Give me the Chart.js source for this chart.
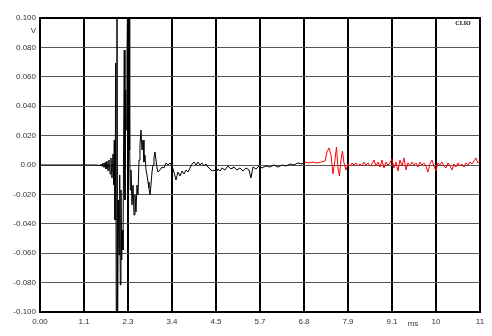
<!DOCTYPE html>
<html>
<head>
<meta charset="utf-8">
<script src="https://cdn.jsdelivr.net/npm/chart.js@4.4.1/dist/chart.umd.min.js"></script>
<style>
  html, body { margin: 0; padding: 0; background: #fff; }
  #wrap { width: 492px; height: 336px; position: relative; }
</style>
</head>
<body>
<div id="wrap"><canvas id="impulse"></canvas></div>
<script>
// time axis (ms) and tick labels as printed by CLIO
var xMax = 11.35;
var xTickLabels = ['0.00', '1.1', '2.3', '3.4', '4.5', '5.7', '6.8', '7.9', '9.1', '10', '11'];
var yTickLabels = ['-0.100', '-0.080', '-0.060', '-0.040', '-0.020', '0.00', '0.020', '0.040', '0.060', '0.080', '0.100'];

// first part of the impulse (black), ms / V
var blackTimes = [
	0, 1.419, 1.548, 1.573, 1.599, 1.625, 1.651, 1.677, 1.702, 1.728,
	1.754, 1.780, 1.806, 1.831, 1.857, 1.883, 1.901, 1.916, 1.934, 1.953,
	1.968, 1.986, 2.002, 2.020, 2.038, 2.056, 2.071, 2.089, 2.107, 2.123,
	2.141, 2.159, 2.174, 2.192, 2.210, 2.226, 2.244, 2.259, 2.278, 2.296,
	2.314, 2.329, 2.347, 2.373, 2.399, 2.425, 2.450, 2.476, 2.502, 2.528,
	2.554, 2.579, 2.605, 2.631, 2.657, 2.682, 2.708, 2.734, 2.760, 2.786,
	2.811, 2.837, 2.863, 2.889, 2.915, 2.940, 2.966, 2.992, 3.018, 3.044,
	3.095, 3.147, 3.198, 3.250, 3.302, 3.353, 3.405, 3.456, 3.508, 3.559,
	3.611, 3.663, 3.714, 3.766, 3.817, 3.869, 3.921, 3.972, 4.024, 4.075,
	4.127, 4.178, 4.230, 4.282, 4.333, 4.385, 4.436, 4.488, 4.540, 4.591,
	4.643, 4.694, 4.772, 4.849, 4.926, 5.004, 5.081, 5.159, 5.236, 5.313,
	5.391, 5.442, 5.494, 5.571, 5.649, 5.726, 5.829, 5.932, 6.036, 6.139,
	6.242, 6.345, 6.448, 6.551, 6.655, 6.758, 6.835
];
var blackValues = [
	0, 0, -0.0003, 0.0007, -0.0010, 0.0014, -0.0017, 0.0017, -0.0027, 0.0027,
	-0.0041, 0.0034, -0.0061, 0.0048, -0.0088, 0.0075, -0.0136, 0.0170, -0.0374, 0.0694,
	-0.115, 0.115, -0.115, -0.0238, -0.0612, -0.0068, -0.0816, -0.0170, -0.0646, -0.0442,
	-0.0578, 0.0238, 0.0782, -0.0238, 0.0510, 0.0238, 0.0714, 0.115, -0.0306, 0.115,
	0.0102, -0.0170, -0.0034, -0.0272, -0.0136, -0.0340, -0.0204, -0.0320, -0.0136, -0.0204,
	0.0034, 0.0136, 0.0238, 0.0102, 0.0170, 0.0020, 0.0068, -0.0034, -0.0068, -0.0116,
	-0.0156, -0.0204, -0.0136, -0.0048, 0, 0.0048, 0.0088, 0.0034, -0.0020, -0.0048,
	-0.0034, -0.0014, -0.0020, 0.0014, 0, 0.0014, -0.0007, -0.0048, -0.0102, -0.0048,
	-0.0075, -0.0041, -0.0061, -0.0034, -0.0048, -0.0020, 0.0007, 0.0020, 0, 0.0020,
	0, 0.0014, -0.0007, 0.0007, -0.0014, -0.0027, -0.0041, -0.0034, -0.0048, -0.0027,
	-0.0041, -0.0020, -0.0034, -0.0007, -0.0027, -0.0014, -0.0034, -0.0020, -0.0041, -0.0020,
	-0.0034, -0.0088, -0.0014, -0.0027, -0.0007, -0.0020, -0.0007, -0.0014, 0, -0.0014,
	0, -0.0007, 0.0007, 0, 0.0014, 0.0007, 0.0020
];

// tail after the gate (red)
var redTimes = [
	6.835, 6.938, 7.041, 7.145, 7.248, 7.351, 7.403, 7.454, 7.506, 7.557,
	7.609, 7.648, 7.686, 7.725, 7.764, 7.802, 7.841, 7.893, 7.944, 7.996,
	8.047, 8.099, 8.151, 8.202, 8.254, 8.305, 8.357, 8.409, 8.460, 8.512,
	8.563, 8.615, 8.666, 8.718, 8.770, 8.821, 8.873, 8.924, 8.976, 9.028,
	9.079, 9.131, 9.182, 9.234, 9.285, 9.337, 9.389, 9.440, 9.492, 9.543,
	9.595, 9.647, 9.698, 9.750, 9.801, 9.853, 9.904, 9.956, 10.008, 10.059,
	10.111, 10.162, 10.214, 10.266, 10.317, 10.369, 10.420, 10.472, 10.524, 10.575,
	10.627, 10.678, 10.730, 10.781, 10.833, 10.884, 10.936, 10.988, 11.039, 11.091,
	11.142, 11.194, 11.246, 11.297, 11.349
];
var redValues = [
	0.0020, 0.0014, 0.0020, 0.0014, 0.0020, 0.0027, 0.0088, 0.0116, 0.0068, -0.0061,
	0.0034, 0.0122, -0.0020, -0.0075, 0.0034, 0.0095, 0.0014, -0.0034, 0.0007, -0.0007,
	0.0014, 0, 0.0014, -0.0007, 0.0007, -0.0007, 0.0020, 0, 0.0014, -0.0007,
	0.0007, 0.0034, -0.0007, 0.0020, -0.0014, 0.0034, -0.0020, 0.0020, 0, 0.0014,
	0.0041, -0.0020, 0.0020, -0.0041, 0.0034, -0.0007, 0.0048, -0.0034, 0.0014, -0.0007,
	0.0020, 0, 0.0014, -0.0014, 0.0020, 0, 0.0014, -0.0007, -0.0048, 0.0007,
	0.0034, -0.0007, -0.0041, 0.0014, 0, 0.0020, -0.0007, -0.0020, 0.0014, -0.0007,
	-0.0034, 0.0007, -0.0014, 0.0014, -0.0007, 0.0007, -0.0014, 0.0014, 0, 0.0020,
	0.0007, 0.0027, 0.0048, 0.0014, 0.0027
];

function toPoints(times, values) {
	return times.map(function(t, i) { return { x: t, y: values[i] }; });
}

// frame + unit labels + CLIO mark
var frame = {
	id: 'frame',
	afterDraw: function(chart) {
		var a = chart.chartArea, ctx = chart.ctx;
		ctx.save();
		ctx.strokeStyle = '#000';
		ctx.lineWidth = 2;
		ctx.strokeRect(a.left, a.top, a.right - a.left, a.bottom - a.top);
		ctx.fillStyle = '#333';
		ctx.font = '8px "Liberation Sans", Arial, sans-serif';
		ctx.textAlign = 'right';
		ctx.textBaseline = 'middle';
		ctx.fillText('V', a.left - 4, a.top + 13);
		ctx.textAlign = 'center';
		ctx.fillText('ms', 413, a.bottom + 12);
		ctx.fillStyle = '#000';
		ctx.font = 'bold 6px "Liberation Serif", serif';
		ctx.fillText('CLIO', a.right - 17, a.top + 5);
		ctx.restore();
	}
};

var ctx = document.getElementById('impulse').getContext('2d');
var chart = new Chart(ctx, {
	type: 'line',
	data: {
		datasets: [{
			data: toPoints(blackTimes, blackValues),
			borderColor: '#000',
			borderWidth: 1,
			pointRadius: 0,
			tension: 0
		}, {
			data: toPoints(redTimes, redValues),
			borderColor: '#ff0000',
			borderWidth: 1,
			pointRadius: 0,
			tension: 0
		}]
	},
	options: {
		responsive: true,
		maintainAspectRatio: false,
		animation: false,
		layout: { padding: { top: 18, right: 12, left: 0, bottom: 0 } },
		plugins: { legend: { display: false }, tooltip: { enabled: false } },
		scales: {
			x: {
				type: 'linear',
				min: 0,
				max: xMax,
				afterBuildTicks: function(scale) {
					scale.ticks = xTickLabels.map(function(l, i) { return { value: i * xMax / 10 }; });
				},
				afterFit: function(scale) { scale.height = 24; },
				grid: { color: '#000', lineWidth: 2, drawTicks: false },
				border: { color: '#000', width: 2 },
				ticks: {
					autoSkip: false,
					maxRotation: 0,
					padding: 5,
					color: '#333',
					font: { family: 'Liberation Sans', size: 8 },
					callback: function(v, i) { return xTickLabels[i]; }
				}
			},
			y: {
				min: -0.1,
				max: 0.1,
				afterBuildTicks: function(scale) {
					scale.ticks = yTickLabels.map(function(l, i) { return { value: -0.1 + i * 0.02 }; });
				},
				afterFit: function(scale) { scale.width = 40; },
				grid: { color: '#555', lineWidth: 1, drawTicks: false },
				border: { color: '#000', width: 2 },
				ticks: {
					padding: 4,
					color: '#333',
					font: { family: 'Liberation Sans', size: 8 },
					callback: function(v, i) { return yTickLabels[i]; }
				}
			}
		}
	},
	plugins: [frame]
});
</script>
</body>
</html>
